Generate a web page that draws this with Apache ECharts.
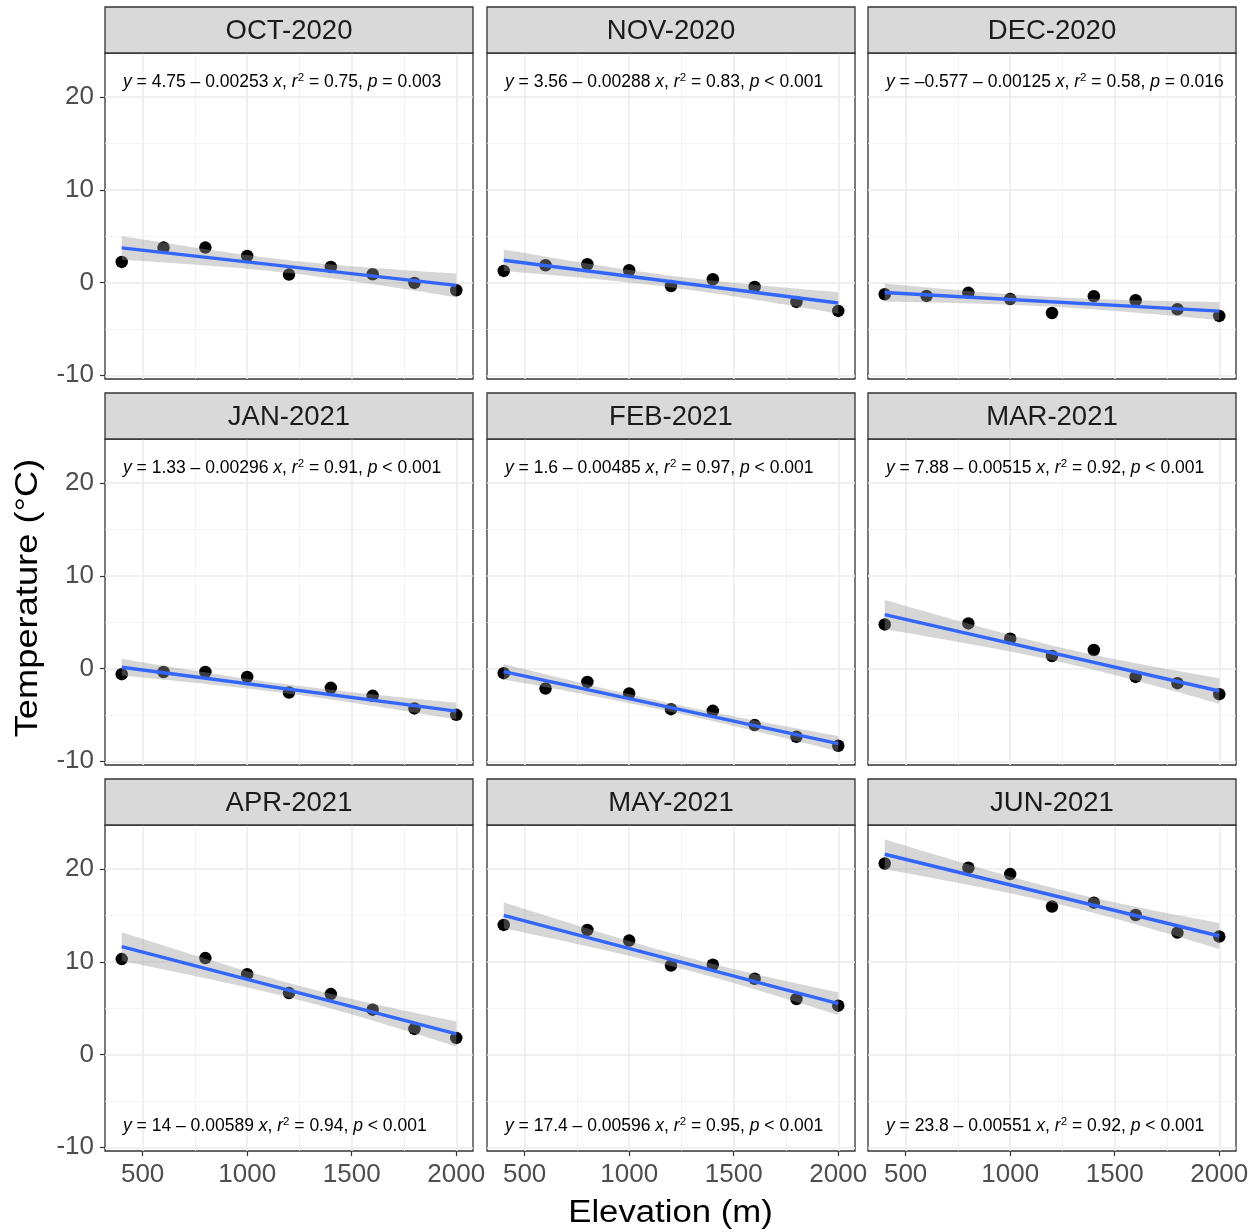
<!DOCTYPE html>
<html><head><meta charset="utf-8">
<script src="https://cdn.jsdelivr.net/npm/echarts@6/dist/echarts.min.js"></script>
<style>html,body{margin:0;padding:0;background:#fff}#c{width:1260px;height:1232px}</style>
</head><body><div id="c"></div>
<script>
// ---------------- data ----------------
const months = ['OCT-2020','NOV-2020','DEC-2020','JAN-2021','FEB-2021','MAR-2021','APR-2021','MAY-2021','JUN-2021'];
const elevAll = [400,600,800,1000,1200,1400,1600,1800,2000];
const elevNo600 = [400,800,1000,1200,1400,1600,1800,2000];
const tOct = [2.22,3.77,3.77,2.87,0.86,1.68,0.89,-0.04,-0.83];
const tNov = [1.25,1.86,1.97,1.33,-0.37,0.36,-0.47,-2.09,-3.06];
const tDec = [-1.26,-1.44,-1.11,-1.77,-3.28,-1.48,-1.91,-2.88,-3.60];
const tJan = [-0.61,-0.37,-0.37,-0.90,-2.58,-2.08,-2.94,-4.30,-4.99];
const tFeb = [-0.50,-2.15,-1.44,-2.69,-4.38,-4.56,-6.10,-7.35,-8.32];
const tMar = [4.76,4.87,3.22,1.35,2.00,-0.90,-1.58,-2.76];
const tApr = [10.29,10.40,8.67,6.63,6.52,4.84,2.76,1.79];
const tMay = [13.98,13.44,12.29,9.60,9.68,8.17,5.99,5.27];
const tJun = [20.60,20.14,19.46,15.95,16.38,15.05,13.15,12.72];
const intercepts = [4.75,3.56,-0.577,1.33,1.6,7.88,14,17.4,23.8];
const slopes = [-0.00253,-0.00288,-0.00125,-0.00296,-0.00485,-0.00515,-0.00589,-0.00596,-0.00551];
const interceptText = ['4.75','3.56','\u20130.577','1.33','1.6','7.88','14','17.4','23.8'];
const slopeText = ['0.00253','0.00288','0.00125','0.00296','0.00485','0.00515','0.00589','0.00596','0.00551'];
const r2Text = ['0.75','0.83','0.58','0.91','0.97','0.92','0.94','0.95','0.92'];
const pText = ['= 0.003','< 0.001','= 0.016','< 0.001','< 0.001','< 0.001','< 0.001','< 0.001','< 0.001'];
const xMajor = [500,1000,1500,2000];
const xMinor = [750,1250,1750];
const yMajor = [-10,0,10,20];
const yMinor = [-5,5,15];
const tQuantile975 = {6: 2.4469, 7: 2.3646};

const temps = [tOct,tNov,tDec,tJan,tFeb,tMar,tApr,tMay,tJun];
const elevs = [elevAll,elevAll,elevAll,elevAll,elevAll,elevNo600,elevNo600,elevNo600,elevNo600];

// ---------------- layout ----------------
const FONT = '"Liberation Sans", Arial, sans-serif';
const colLeft = [105, 487, 868];
const rowTop = [53, 439, 825];
const PW = 368, PH = 326, SH = 46;
const X_MIN = 320, X_MAX = 2080, Y_MIN = -10.4, Y_MAX = 24.75;

// confidence band for the fitted line (as geom_smooth, level 0.95)
function band(xs, ys, a, b) {
  const n = xs.length;
  const xbar = xs.reduce((s,v)=>s+v,0)/n;
  let sxx = 0, sse = 0;
  for (let k=0;k<n;k++){ sxx += (xs[k]-xbar)**2; sse += (ys[k]-(a+b*xs[k]))**2; }
  const s = Math.sqrt(sse/(n-2));
  const tq = tQuantile975[n-2];
  const x0 = Math.min(...xs), x1 = Math.max(...xs);
  const gx=[], lo=[], hi=[];
  for (let k=0;k<80;k++){
    const x = x0 + (x1-x0)*k/79;
    const yhat = a + b*x;
    const se = s*Math.sqrt(1/n + (x-xbar)**2/sxx);
    gx.push(x); lo.push(yhat - tq*se); hi.push(yhat + tq*se);
  }
  return {gx, lo, hi};
}

const plain = v => String(v);
const grids=[], xAxes=[], yAxes=[], series=[], graphics=[];
for (let i=0;i<9;i++){
  const r = Math.floor(i/3), c = i%3;
  grids.push({left:colLeft[c], top:rowTop[r], width:PW, height:PH, show:true, borderColor:'#333333', borderWidth:1.3, backgroundColor:'#ffffff'});
}
for (let i=0;i<9;i++){
  const r = Math.floor(i/3), c = i%3;
  xAxes.push({gridIndex:i, type:'value', min:X_MIN, max:X_MAX, position:'bottom',
    axisLine:{show:false, onZero:false},
    axisTick:{show:r===2, customValues:xMajor, length:5, lineStyle:{color:'#333333', width:1.2}},
    axisLabel:{show:r===2, customValues:xMajor, formatter:plain, fontSize:26, color:'#4d4d4d', fontFamily:FONT, margin:11},
    splitLine:{show:true, lineStyle:{color:'#ebebeb', width:1.5}}});
  yAxes.push({gridIndex:i, type:'value', min:Y_MIN, max:Y_MAX, position:'left',
    axisLine:{show:false, onZero:false},
    axisTick:{show:c===0, customValues:yMajor, length:5, lineStyle:{color:'#333333', width:1.2}},
    axisLabel:{show:c===0, customValues:yMajor, formatter:plain, fontSize:26, color:'#4d4d4d', fontFamily:FONT, margin:11},
    splitLine:{show:true, lineStyle:{color:'#ebebeb', width:1.5}}});
}
for (let i=0;i<9;i++){
  xAxes.push({gridIndex:i, type:'value', min:X_MIN, max:X_MAX, position:'top',
    axisLine:{show:false, onZero:false}, axisTick:{show:false, customValues:xMinor}, axisLabel:{show:false, customValues:xMinor},
    splitLine:{show:true, lineStyle:{color:'#f0f0f0', width:0.8}}});
  yAxes.push({gridIndex:i, type:'value', min:Y_MIN, max:Y_MAX, position:'right',
    axisLine:{show:false, onZero:false}, axisTick:{show:false, customValues:yMinor}, axisLabel:{show:false, customValues:yMinor},
    splitLine:{show:true, lineStyle:{color:'#f0f0f0', width:0.8}}});
}

for (let i=0;i<9;i++){
  const xs = elevs[i], ys = temps[i], a = intercepts[i], b = slopes[i];
  series.push({type:'scatter', xAxisIndex:i, yAxisIndex:i, z:2, silent:true,
    data: xs.map((x,k)=>[x, ys[k]]), symbolSize:12.5, itemStyle:{color:'#000000', opacity:1}});
  const bd = band(xs, ys, a, b);
  series.push({type:'custom', xAxisIndex:i, yAxisIndex:i, z:3, silent:true,
    data:[[bd.gx[0], bd.lo[0]]],
    renderItem:function(params, api){
      const pts=[];
      for (let k=0;k<bd.gx.length;k++) pts.push(api.coord([bd.gx[k], bd.hi[k]]));
      for (let k=bd.gx.length-1;k>=0;k--) pts.push(api.coord([bd.gx[k], bd.lo[k]]));
      return {type:'polygon', shape:{points:pts}, style:{fill:'rgba(153,153,153,0.4)'}};
    }});
  const x0 = Math.min(...xs), x1 = Math.max(...xs);
  series.push({type:'line', xAxisIndex:i, yAxisIndex:i, z:4, silent:true, symbol:'none',
    data:[[x0, a+b*x0],[x1, a+b*x1]], lineStyle:{color:'#3366FF', width:3.4}});
}

// strips and equations
const rich = {
  n:{fontSize:17.5, fontFamily:FONT, lineHeight:20, fill:'#000'},
  i:{fontSize:17.5, fontFamily:FONT, fontStyle:'italic', lineHeight:20, fill:'#000'},
  s:{fontSize:11.5, fontFamily:FONT, lineHeight:20, verticalAlign:'top', fill:'#000'}
};
for (let i=0;i<9;i++){
  const r = Math.floor(i/3), c = i%3;
  const left = colLeft[c], top = rowTop[r];
  graphics.push({type:'rect', z:10, shape:{x:left, y:top-SH, width:PW, height:SH},
    style:{fill:'#d9d9d9', stroke:'#333333', lineWidth:1.3}});
  graphics.push({type:'text', z:11, x:left+PW/2, y:top-SH/2+1,
    style:{text:months[i], fontSize:27.5, fontFamily:FONT, fill:'#1a1a1a', align:'center', verticalAlign:'middle', textAlign:'center', textVerticalAlign:'middle'}});
  const eq = '{i|y}{n| = ' + interceptText[i] + ' \u2013 ' + slopeText[i] + ' }{i|x}{n|, }{i|r}{s|2}{n| = ' + r2Text[i] + ', }{i|p}{n| ' + pText[i] + '}';
  const ey = r===2 ? top+PH-25 : top+29;
  graphics.push({type:'text', z:11, x:left+18, y:ey,
    style:{text:eq, rich:rich, fontSize:17.5, fontFamily:FONT, fill:'#000', align:'left', verticalAlign:'middle', textAlign:'left', textVerticalAlign:'middle'}});
}
graphics.push({type:'text', z:11, x:670.5, y:1213, scaleX:1.12,
  style:{text:'Elevation (m)', fontSize:31, fontFamily:FONT, fill:'#000', align:'center', verticalAlign:'middle', textAlign:'center', textVerticalAlign:'middle'}});
graphics.push({type:'text', z:11, x:28, y:598, rotation:Math.PI/2, scaleX:1.17,
  style:{text:'Temperature (\u00B0C)', fontSize:31, fontFamily:FONT, fill:'#000', align:'center', verticalAlign:'middle', textAlign:'center', textVerticalAlign:'middle'}});

const chart = echarts.init(document.getElementById('c'), null, {renderer:'canvas'});
chart.setOption({animation:false, backgroundColor:'#ffffff', grid:grids, xAxis:xAxes, yAxis:yAxes, series:series, graphic:{elements:graphics}});
</script></body></html>
